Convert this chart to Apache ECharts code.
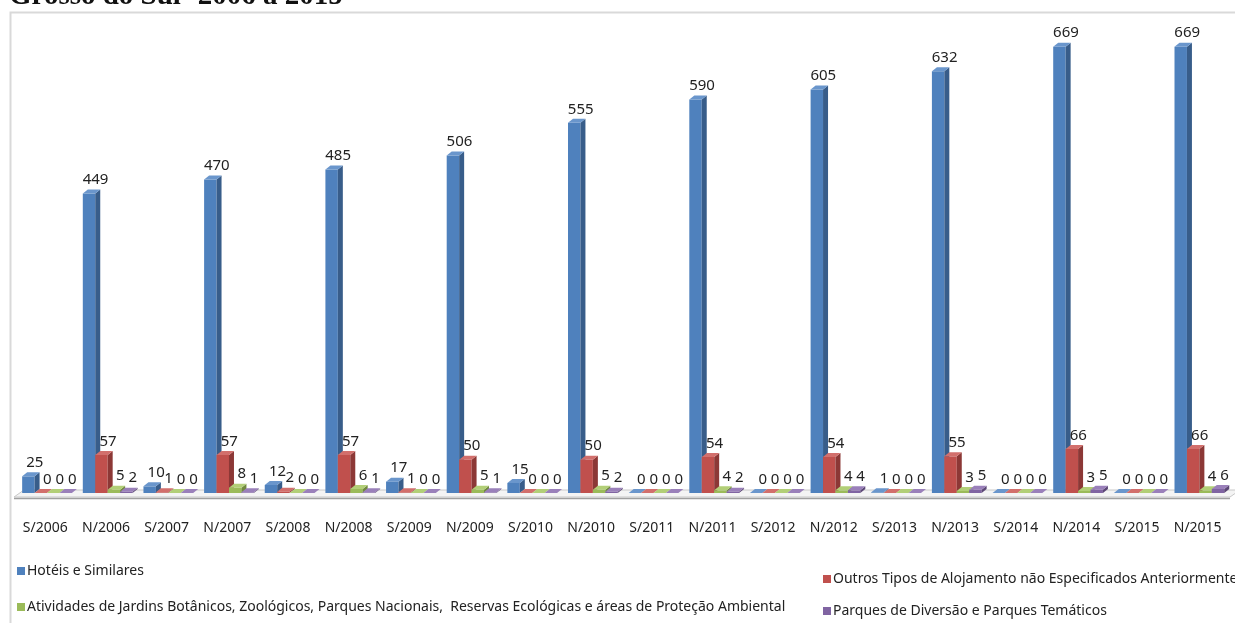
<!DOCTYPE html>
<html><head><meta charset="utf-8">
<script src="https://cdn.jsdelivr.net/npm/echarts@6/dist/echarts.min.js"></script>
<style>html,body{margin:0;padding:0;background:#fff}#c{width:1235px;height:623px}</style>
</head><body><div id="c"></div>
<script>
const categories = ['S/2006','N/2006','S/2007','N/2007','S/2008','N/2008','S/2009','N/2009','S/2010','N/2010','S/2011','N/2011','S/2012','N/2012','S/2013','N/2013','S/2014','N/2014','S/2015','N/2015'];
const hoteis = [25,449,10,470,12,485,17,506,15,555,0,590,0,605,1,632,0,669,0,669];
const outros = [0,57,1,57,2,57,1,50,0,50,0,54,0,54,0,55,0,66,0,66];
const atividades = [0,5,0,8,0,6,0,5,0,5,0,4,0,4,0,3,0,3,0,4];
const parques = [0,2,0,1,0,1,0,1,0,2,0,2,0,4,0,5,0,5,0,6];
const seriesNames = ['Hotéis e Similares','Outros Tipos de Alojamento não Especificados Anteriormente','Atividades de Jardins Botânicos, Zoológicos, Parques Nacionais,  Reservas Ecológicas e áreas de Proteção Ambiental','Parques de Diversão e Parques Temáticos'];
const seriesValues = [hoteis, outros, atividades, parques];
const titleText = 'Grosso do Sul- 2006 a 2015';

const colors = [
  {front:'#4F81BD', side:'#385D8A', top:'#6A96CC'},
  {front:'#C0504D', side:'#8C3836', top:'#D26F6C'},
  {front:'#9BBB59', side:'#71893F', top:'#B2CF77'},
  {front:'#8064A2', side:'#5C4776', top:'#9A80BA'}
];
const DX = 5, DY = -4;
const FONT = 'Noto Sans';

function makeRender(s){
  return function(params, api){
    const idx = api.value(0), val = api.value(1);
    const p0 = api.coord([idx, 0]);
    const p1 = api.coord([idx, val]);
    const band = api.size([1, 0])[0];
    const bw = band * 0.205;
    const x0 = p0[0] - band/2 + band*0.118 + s*bw;
    const yb = p0[1], yt = p1[1];
    const c = colors[s];
    const children = [];
    if (yb - yt > 0.5) {
      children.push({type:'rect', shape:{x:x0, y:yt, width:bw, height:yb-yt}, style:{fill:c.front}});
    }
    children.push({type:'polygon', shape:{points:[[x0+bw,yt],[x0+bw+DX,yt+DY],[x0+bw+DX,yb+DY],[x0+bw,yb]]}, style:{fill:c.side}});
    children.push({type:'polygon', shape:{points:[[x0,yt],[x0+DX,yt+DY],[x0+bw+DX,yt+DY],[x0+bw,yt]]}, style:{fill:c.top}});
    children.push({type:'text', x:x0+bw/2+DX/2+4, y:yt+DY-2, style:{text:String(val), fill:'#222', font:'15px "'+FONT+'"', align:'center', verticalAlign:'bottom'}});
    return {type:'group', children:children};
  };
}

const series = [];
// floor
series.push({
  type:'custom', silent:true, z:1, data:[[0,0]],
  renderItem:function(params, api){
    const cs = params.coordSys;
    const yb = api.coord([0,0])[1];
    const x1 = cs.x - 1, x2 = cs.x + cs.width + 2;
    return {type:'group', children:[
      {type:'polygon', shape:{points:[[x1,yb+4],[x1+10,yb-3],[x2+10,yb-3],[x2,yb+4]]}, style:{fill:'#f4f4f4', stroke:'#c8c8c8', lineWidth:1}},
      {type:'line', shape:{x1:x1, y1:yb+5.5, x2:x2, y2:yb+5.5}, style:{stroke:'#a0a0a0', lineWidth:1.5}}
    ]};
  }
});
seriesValues.forEach(function(vals, s){
  series.push({
    type:'custom', name:seriesNames[s], z:2+s,
    itemStyle:{color:colors[s].front},
    renderItem:makeRender(s),
    data: vals.map(function(v,i){return [i,v];})
  });
});

const legendBase = {icon:'rect', itemWidth:8, itemHeight:8, itemGap:0, textStyle:{fontFamily:FONT, fontSize:14, color:'#222', padding:[0,0,0,-3]}, selectedMode:false};
const chart = echarts.init(document.getElementById('c'), null, {renderer:'canvas'});
chart.setOption({
  animation:false,
  backgroundColor:'#fff',
  title:{text:titleText, left:4, top:-23, textStyle:{fontFamily:'Liberation Serif', fontWeight:'bold', fontSize:29, color:'#111'}},
  graphic:[{type:'polyline', shape:{points:[[10.5,640],[10.5,12.5],[1240,12.5]]}, style:{stroke:'#d9d9d9', lineWidth:2, fill:null}, silent:true}],
  legend:[
    Object.assign({}, legendBase, {data:[seriesNames[0]], left:12, top:559}),
    Object.assign({}, legendBase, {data:[seriesNames[1]], left:818, top:567}),
    Object.assign({}, legendBase, {data:[seriesNames[2]], left:12, top:595}),
    Object.assign({}, legendBase, {data:[seriesNames[3]], left:818, top:599})
  ],
  grid:{left:15, right:7, top:26, bottom:130, containLabel:false},
  xAxis:{type:'category', data:categories, boundaryGap:true,
    axisLine:{show:false}, axisTick:{show:false},
    axisLabel:{interval:0, margin:28, fontFamily:FONT, fontSize:14, color:'#222'}},
  yAxis:{type:'value', min:0, max:700, show:false, splitLine:{show:false}},
  series:series
});
</script></body></html>
